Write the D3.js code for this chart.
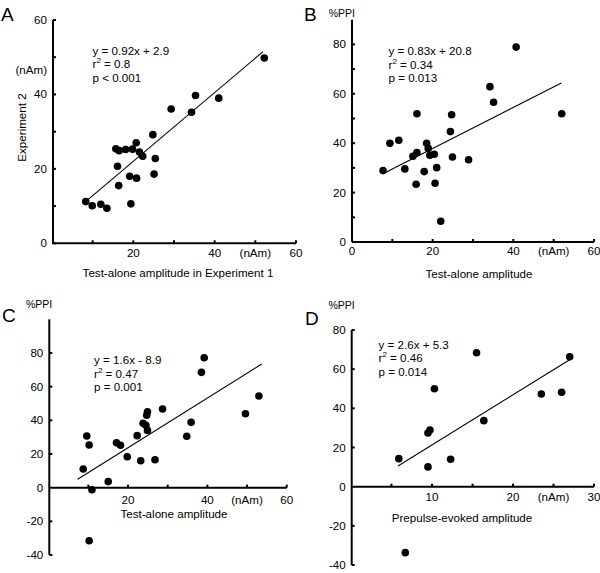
<!DOCTYPE html>
<html>
<head>
<meta charset="utf-8">
<script src="https://cdn.jsdelivr.net/npm/d3@7"></script>
<style>
html,body{margin:0;padding:0;background:#fff;}
svg{display:block;}
text{font-family:"Liberation Sans",Arial,sans-serif;fill:#000;}
</style>
</head>
<body>
<svg id="chart" width="600" height="573"></svg>
<script>
// ---- Data ----
// Panel A: test-alone amplitude Exp 1 (x) vs Exp 2 (y), nAm
const aX = [8.3, 9.9, 12.0, 13.5, 19.4, 15.7, 16.5, 18.1, 19.8, 20.7, 21.5, 22.3, 16.1, 16.4, 19.1, 20.8, 24.8, 25.4, 25.1, 29.3, 34.3, 35.3, 41.0, 52.2];
const aY = [11.2, 10.1, 10.5, 9.4, 10.6, 25.4, 24.9, 25.2, 25.3, 27.0, 24.5, 23.4, 20.7, 15.5, 18.0, 17.5, 29.2, 22.8, 18.6, 36.1, 35.2, 39.7, 39.0, 49.8];
const aFit = [[8.7, 11.6], [51.9, 51.5]];
const aEq = ["y = 0.92x + 2.9", "0.8", "p < 0.001"];

// Panel B: test-alone amplitude (x) vs %PPI (y)
const bX = [7.7, 9.4, 11.6, 13.1, 15.1, 16.1, 16.1, 15.9, 17.9, 18.5, 18.9, 19.3, 20.4, 20.6, 21.0, 22.0, 24.4, 24.7, 24.9, 28.9, 34.2, 35.1, 40.7, 52.0];
const bY = [28.9, 40.0, 41.2, 29.6, 34.7, 36.2, 51.9, 23.4, 28.5, 40.0, 37.9, 35.1, 35.5, 23.8, 30.1, 8.4, 44.7, 51.5, 34.4, 33.3, 62.9, 56.6, 78.9, 51.9];
const bFit = [[8.3, 28.1], [51.9, 64.4]];
const bEq = ["y = 0.83x + 20.8", "0.34", "p = 0.013"];

// Panel C: test-alone amplitude (x) vs %PPI (y)
const cX = [8.7, 9.6, 10.2, 10.9, 10.2, 15.0, 17.1, 18.1, 19.8, 22.3, 23.2, 24.9, 24.7, 23.8, 24.5, 24.9, 26.8, 28.7, 34.8, 35.9, 38.5, 39.2, 49.6, 53.0];
const cY = [11.1, 30.7, 25.3, -1.2, -31.5, 3.6, 26.7, 25.2, 18.4, 30.9, 16.0, 45.1, 43.0, 38.2, 37.0, 34.0, 16.6, 46.7, 30.5, 38.8, 68.5, 77.2, 43.9, 54.4];
const cFit = [[7.3, 5.0], [53.7, 73.4]];
const cEq = ["y = 1.6x - 8.9", "0.47", "p = 0.001"];

// Panel D: prepulse-evoked amplitude (x) vs %PPI (y)
const dX = [5.9, 9.5, 9.5, 9.75, 10.3, 12.3, 15.5, 16.4, 23.5, 26.0, 27.0, 6.7];
const dY = [14.3, 10.1, 27.4, 28.9, 50.0, 14.0, 68.4, 33.7, 47.3, 48.2, 66.3, -33.7];
const dFit = [[5.8, 10.6], [26.9, 64.6]];
const dEq = ["y = 2.6x + 5.3", "0.46", "p = 0.014"];

// Tick values / labels
const aXTicks = [10, 20, 30, 40, 50, 60];
const aXLabels = {20: "20", 40: "40", 50: "(nAm)", 60: "60"};
const aYTicks = [0, 10, 20, 30, 40, 50, 60];
const aYLabels = [0, 20, 40, 60];

const bXTicks = [10, 20, 30, 40, 50, 60];
const bXLabels = {0: "0", 20: "20", 40: "40", 50: "(nAm)", 60: "60"};
const bYTicks = [10, 20, 30, 40, 50, 60, 70, 80];
const bYLabels = [0, 20, 40, 60, 80];

const cXTicks = [10, 20, 30, 40, 50, 60];
const cXLabels = {20: "20", 40: "40", 50: "(nAm)", 60: "60"};
const cYTicks = [-40, -20, 20, 40, 60, 80];
const cYLabels = [-40, -20, 0, 20, 40, 60, 80];

const dXTicks = [5, 10, 15, 20, 25, 30];
const dXLabels = {10: "10", 20: "20", 25: "(nAm)", 30: "30"};
const dYTicks = [-40, -20, 20, 40, 60, 80];
const dYLabels = [-40, -20, 0, 20, 40, 60, 80];

// ---- Drawing ----
const svg = d3.select("#chart");
const FS = 11.6;

function panel(cfg) {
  const g = svg.append("g");
  const x = d3.scaleLinear().domain(cfg.xDomain).range(cfg.xRange);
  const y = d3.scaleLinear().domain(cfg.yDomain).range(cfg.yRange);
  const axisY = cfg.xAxisAt === undefined ? cfg.yRange[0] : y(cfg.xAxisAt);
  const axisX = cfg.yAxisX;

  // x axis
  g.append("line").attr("x1", cfg.xRange[0]).attr("x2", cfg.xRange[1])
    .attr("y1", axisY).attr("y2", axisY).attr("stroke", "#000").attr("stroke-width", 2);
  g.selectAll(null).data(cfg.xTicks).join("line")
    .attr("x1", d => x(d)).attr("x2", d => x(d))
    .attr("y1", axisY).attr("y2", axisY - 3)
    .attr("stroke", "#000").attr("stroke-width", 2);
  g.selectAll(null).data(Object.keys(cfg.xLabels).map(Number)).join("text")
    .attr("x", d => x(d)).attr("y", axisY + cfg.xLabelDy)
    .attr("text-anchor", "middle").attr("font-size", FS)
    .text(d => cfg.xLabels[d]);

  // y axis
  g.append("line").attr("x1", axisX).attr("x2", axisX)
    .attr("y1", cfg.yRange[0]).attr("y2", cfg.yRange[1]).attr("stroke", "#000").attr("stroke-width", 2);
  g.selectAll(null).data(cfg.yTicks).join("line")
    .attr("x1", axisX).attr("x2", axisX + 3)
    .attr("y1", d => y(d)).attr("y2", d => y(d))
    .attr("stroke", "#000").attr("stroke-width", 2);
  g.selectAll(null).data(cfg.yLabels).join("text")
    .attr("x", axisX - 6).attr("y", d => y(d) + 4)
    .attr("text-anchor", "end").attr("font-size", FS)
    .text(d => d);

  // fit line
  g.append("line")
    .attr("x1", x(cfg.fit[0][0])).attr("y1", y(cfg.fit[0][1]))
    .attr("x2", x(cfg.fit[1][0])).attr("y2", y(cfg.fit[1][1]))
    .attr("stroke", "#000").attr("stroke-width", 1.1);

  // points
  g.selectAll(null).data(cfg.xs.map((v, i) => [v, cfg.ys[i]])).join("circle")
    .attr("cx", d => x(d[0])).attr("cy", d => y(d[1])).attr("r", 3.8)
    .attr("fill", "#000");

  // equation text
  const ex = cfg.eqPos[0], ey = cfg.eqPos[1];
  g.append("text").attr("x", ex).attr("y", ey).attr("font-size", FS).text(cfg.eq[0]);
  const r = g.append("text").attr("x", ex).attr("y", ey + 13.5).attr("font-size", FS);
  r.append("tspan").text("r");
  r.append("tspan").attr("dy", -5).attr("font-size", 8).text("2");
  r.append("tspan").attr("dy", 5).text(" = " + cfg.eq[1]);
  g.append("text").attr("x", ex).attr("y", ey + 27).attr("font-size", FS).text(cfg.eq[2]);

  // panel letter
  g.append("text").attr("x", cfg.letterPos[0]).attr("y", cfg.letterPos[1])
    .attr("font-size", 19).text(cfg.letter);

  // x title
  g.append("text").attr("x", cfg.xTitlePos[0]).attr("y", cfg.xTitlePos[1])
    .attr("text-anchor", "middle").attr("font-size", FS).text(cfg.xTitle);

  // %PPI
  if (cfg.yUnit) {
    g.append("text").attr("x", axisX + 3).attr("y", cfg.yUnitY)
      .attr("text-anchor", "end").attr("font-size", 10.5).text(cfg.yUnit);
  }
  return {g, x, y};
}

const A = panel({
  xDomain: [0, 60], xRange: [52, 296], yDomain: [0, 60], yRange: [243.3, 20],
  yAxisX: 53, xTicks: aXTicks, xLabels: aXLabels, xLabelDy: 14,
  yTicks: aYTicks, yLabels: aYLabels,
  xs: aX, ys: aY, fit: aFit, eq: aEq, eqPos: [92.5, 54.5],
  letter: "A", letterPos: [1, 21], xTitle: "Test-alone amplitude in Experiment 1", xTitlePos: [178, 277]
});
A.g.append("text").attr("x", 47).attr("y", 74).attr("text-anchor", "end").attr("font-size", FS).text("(nAm)");
A.g.append("text").attr("transform", "translate(26,127.5) rotate(-90)")
  .attr("text-anchor", "middle").attr("font-size", FS).text("Experiment 2");

panel({
  xDomain: [0, 60], xRange: [352, 594], yDomain: [0, 90], yRange: [242, 19.7],
  yAxisX: 352, xTicks: bXTicks, xLabels: bXLabels, xLabelDy: 13,
  yTicks: bYTicks, yLabels: bYLabels,
  xs: bX, ys: bY, fit: bFit, eq: bEq, eqPos: [388.5, 55],
  letter: "B", letterPos: [304, 21], xTitle: "Test-alone amplitude", xTitlePos: [479, 278],
  yUnit: "%PPI", yUnitY: 17
});

panel({
  xDomain: [0, 60], xRange: [48.7, 286.7], yDomain: [-40, 100], yRange: [555, 319.3],
  yAxisX: 49.3, xAxisAt: 0, xTicks: cXTicks, xLabels: cXLabels, xLabelDy: 16,
  yTicks: cYTicks, yLabels: cYLabels,
  xs: cX, ys: cY, fit: cFit, eq: cEq, eqPos: [94, 364],
  letter: "C", letterPos: [2, 322], xTitle: "Test-alone amplitude", xTitlePos: [174, 517.5],
  yUnit: "%PPI", yUnitY: 308
});

panel({
  xDomain: [0, 30], xRange: [351, 594], yDomain: [-40, 80], yRange: [565, 330],
  yAxisX: 351.7, xAxisAt: 0, xTicks: dXTicks, xLabels: dXLabels, xLabelDy: 14.5,
  yTicks: dYTicks, yLabels: dYLabels,
  xs: dX, ys: dY, fit: dFit, eq: dEq, eqPos: [378.5, 348.5],
  letter: "D", letterPos: [305, 325], xTitle: "Prepulse-evoked amplitude", xTitlePos: [462, 522],
  yUnit: "%PPI", yUnitY: 309
});
</script>
</body>
</html>
